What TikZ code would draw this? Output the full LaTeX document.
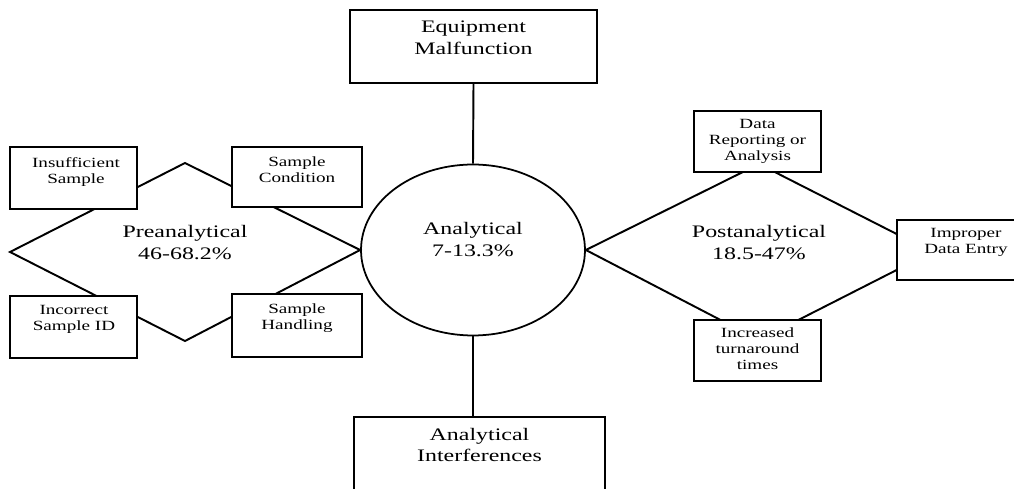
\documentclass[tikz,border=0pt]{standalone}
\usepackage{fontspec}
\setmainfont{Liberation Serif}[FakeStretch=1.36]
\usetikzlibrary{shapes.geometric}
\tikzset{
  box/.style={draw=black, line width=1.1pt, fill=white, rectangle, inner sep=0pt},
  bigtxt/.style={align=center, inner sep=0pt, font=\fontsize{10pt}{12.5pt}\selectfont},
  smalltxt/.style={align=center, inner sep=0pt, font=\fontsize{8pt}{9.07pt}\selectfont},
  edge/.style={draw=black, line width=1.1pt},
}
\begin{document}
\begin{tikzpicture}[x=0.02cm, y=-0.02cm]
\clip (0,0) rectangle (1014,489);
\useasboundingbox (0,0) rectangle (1014,489);
% central ellipse
\node[ellipse, draw=black, line width=1pt, fill=white, minimum width=4.48cm, minimum height=3.42cm, inner sep=0pt] (ana) at (473,250) {};
% left diamond
\coordinate (Lw) at (10,252);
\coordinate (Lt) at (185,163);
\coordinate (Lb) at (185,341);
\draw[edge] (Lw) -- (Lt) -- (ana.west) -- (Lb) -- cycle;
% right diamond
\coordinate (Rt) at (759,164);
\coordinate (Re) at (932,252);
\coordinate (Rb) at (759,340);
\draw[edge] (ana.east) -- (Rt) -- (Re) -- (Rb) -- cycle;
% left boxes
\node[box, minimum width=2.54cm, minimum height=1.24cm] (ins) at (73.5,178) {};
\node[box, minimum width=2.60cm, minimum height=1.20cm] (cond) at (297,177) {};
\node[box, minimum width=2.54cm, minimum height=1.24cm] (inc) at (73.5,327) {};
\node[box, minimum width=2.60cm, minimum height=1.26cm] (hand) at (297,325.5) {};
% right boxes
\node[box, minimum width=2.54cm, minimum height=1.22cm] (data) at (757.5,141.5) {};
\node[box, minimum width=2.76cm, minimum height=1.20cm] (impr) at (966,250) {};
\node[box, minimum width=2.54cm, minimum height=1.22cm] (incr) at (757.5,350.5) {};
% top and bottom boxes
\node[box, minimum width=4.94cm, minimum height=1.46cm] (equip) at (473.5,46.5) {};
\node[box, minimum width=5.02cm, minimum height=2.12cm] (interf) at (479.5,470) {};
\draw[edge] (equip.south) -- (ana.north);
\draw[edge] (ana.south) -- (ana.south |- interf.north);
% texts
\node[smalltxt] (insT) at (76,171.7) {Insufficient\\Sample};
\node[smalltxt] (condT) at (297,169.7) {Sample\\Condition};
\node[smalltxt] (incT) at (74,319.7) {Incorrect\\Sample ID};
\node[smalltxt] (handT) at (297,318.2) {Sample\\Handling};
\node[smalltxt] (dataT) at (757.5,141.7) {Data\\Reporting or\\Analysis};
\node[smalltxt] (imprT) at (966,242.7) {Improper\\Data Entry};
\node[smalltxt] (incrT) at (757.5,348.7) {Increased\\turnaround\\times};
\node[bigtxt] (preT) at (185,243) {Preanalytical\\46-68.2\%};
\node[bigtxt] (postT) at (759,243) {Postanalytical\\18.5-47\%};
\node[bigtxt] (anaT) at (473,240) {Analytical\\7-13.3\%};
\node[bigtxt] (equipT) at (473.5,38) {Equipment\\Malfunction};
\node[bigtxt] (interfT) at (479.5,445) {Analytical\\Interferences};
\end{tikzpicture}
\end{document}
